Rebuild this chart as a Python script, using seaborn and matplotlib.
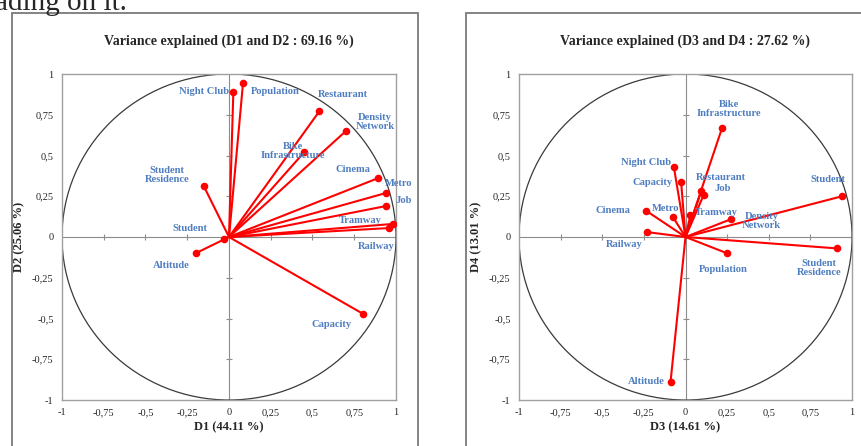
import pandas as pd
import seaborn as sns
import matplotlib.pyplot as plt
from matplotlib.patches import Circle, Rectangle

# loadings
left_labels = ["Night Club", "Population", "Restaurant", "Density\nNetwork",
               "Bike\nInfrastructure", "Cinema", "Metro", "Job", "Tramway",
               "Railway", "Capacity", "Altitude", "Student", "Student\nResidence"]
left_x = [0.026, 0.084, 0.54, 0.70, 0.45, 0.89, 0.94, 0.94, 0.98, 0.96, 0.80, -0.20, -0.03, -0.15]
left_y = [0.89, 0.945, 0.77, 0.65, 0.52, 0.36, 0.27, 0.19, 0.08, 0.055, -0.47, -0.10, -0.01, 0.31]

right_labels = ["Night Club", "Capacity", "Cinema", "Metro", "Railway", "Tramway",
                "Bike\nInfrastructure", "Restaurant", "Job", "Density\nNetwork",
                "Student", "Student\nResidence", "Population", "Altitude"]
right_x = [-0.07, -0.026, -0.235, -0.077, -0.23, 0.03, 0.22, 0.095, 0.11, 0.275, 0.94, 0.91, 0.25, -0.09]
right_y = [0.43, 0.335, 0.16, 0.125, 0.03, 0.137, 0.67, 0.28, 0.26, 0.11, 0.25, -0.07, -0.10, -0.89]

ticks = [-1, -0.75, -0.5, -0.25, 0, 0.25, 0.5, 0.75, 1]
tick_labels = ["-1", "-0,75", "-0,5", "-0,25", "0", "0,25", "0,5", "0,75", "1"]

# where the variable names sit (data coordinates)
left_text_pos = {
    "Night Club": (-0.15, 0.89), "Population": (0.28, 0.89), "Restaurant": (0.685, 0.877),
    "Density\nNetwork": (0.874, 0.705), "Bike\nInfrastructure": (0.385, 0.525),
    "Cinema": (0.744, 0.413), "Metro": (1.014, 0.327), "Job": (1.044, 0.225),
    "Tramway": (0.784, 0.102), "Railway": (0.884, -0.061), "Capacity": (0.615, -0.538),
    "Altitude": (-0.343, -0.174), "Student": (-0.234, 0.055),
    "Student\nResidence": (-0.37, 0.382),
}
right_text_pos = {
    "Bike\nInfrastructure": (0.259, 0.783), "Night Club": (-0.237, 0.456),
    "Capacity": (-0.197, 0.337), "Cinema": (-0.438, 0.16), "Metro": (-0.122, 0.176),
    "Railway": (-0.367, -0.049), "Restaurant": (0.215, 0.366), "Job": (0.221, 0.299),
    "Tramway": (0.185, 0.149), "Density\nNetwork": (0.456, 0.098), "Student": (0.854, 0.35),
    "Student\nResidence": (0.803, -0.192), "Population": (0.225, -0.198),
    "Altitude": (-0.237, -0.888),
}

sns.set_style("white")
plt.rcParams["font.family"] = ["Liberation Serif", "DejaVu Serif"]

RED = "#FF0000"
BLUE = "#4F7EC0"
GREY = "#8C8C8C"

fig = plt.figure(figsize=(8.62, 4.46), dpi=100)

# document text cut off at the top
fig.text(-0.006, 0.978, "ading on it.", fontsize=21, va="baseline", ha="left")

# outer frames of the two chart objects
fig.add_artist(Rectangle((12 / 862, -0.02), 406 / 862, 1 - 13 / 446 + 0.02,
                         transform=fig.transFigure, fill=False, ec="#7A7A7A", lw=1.3))
fig.add_artist(Rectangle((466 / 862, -0.02), 410 / 862, 1 - 13 / 446 + 0.02,
                         transform=fig.transFigure, fill=False, ec="#7A7A7A", lw=1.3))

panels = [
    ([62, 396], left_labels, left_x, left_y, left_text_pos,
     "Variance explained (D1 and D2 : 69.16 %)", "D1 (44.11 %)", "D2 (25.06 %)"),
    ([519, 852], right_labels, right_x, right_y, right_text_pos,
     "Variance explained (D3 and D4 : 27.62 %)", "D3 (14.61 %)", "D4 (13.01 %)"),
]

for (xpx, labels, xs, ys, text_pos, title, xlab, ylab) in panels:
    ax = fig.add_axes([xpx[0] / 862, 46 / 446, (xpx[1] - xpx[0]) / 862, 326 / 446])
    df = pd.DataFrame({"label": labels, "x": xs, "y": ys})

    ax.axhline(0, color=GREY, lw=0.8, zorder=1)
    ax.axvline(0, color=GREY, lw=0.8, zorder=1)
    minor = [t for t in ticks if t not in (-1, 0, 1)]
    ax.plot(minor, [0] * len(minor), ls="none", marker="|", ms=5, color=GREY, mew=0.8)
    ax.plot([0] * len(minor), minor, ls="none", marker="_", ms=5, color=GREY, mew=0.8)
    ax.add_patch(Circle((0, 0), 1, fill=False, ec="#3A3A3A", lw=0.9, zorder=2))

    for _, r in df.iterrows():
        ax.plot([0, r["x"]], [0, r["y"]], color=RED, lw=1.5, zorder=3)
    sns.scatterplot(data=df, x="x", y="y", ax=ax, color=RED, s=30,
                    edgecolor=RED, linewidth=0, zorder=4, legend=False)

    for lab in labels:
        tx, ty = text_pos[lab]
        ax.text(tx, ty, lab, color=BLUE, fontsize=7.6, fontweight="bold",
                ha="center", va="center", linespacing=1.0, zorder=5)

    ax.set_xlim(-1, 1)
    ax.set_ylim(-1, 1)
    ax.set_xticks(ticks)
    ax.set_yticks(ticks)
    ax.set_xticklabels(tick_labels)
    ax.set_yticklabels(tick_labels)
    ax.tick_params(length=0, labelsize=7.5, pad=6)
    for s in ax.spines.values():
        s.set_color("#A0A0A0")
        s.set_linewidth(1.0)
    ax.set_title(title, fontsize=10, fontweight="bold", pad=21)
    ax.set_xlabel(xlab, fontsize=9, fontweight="bold", labelpad=3)
    ax.set_ylabel(ylab, fontsize=9, fontweight="bold", labelpad=5)

fig.savefig("out.png", dpi=100)
